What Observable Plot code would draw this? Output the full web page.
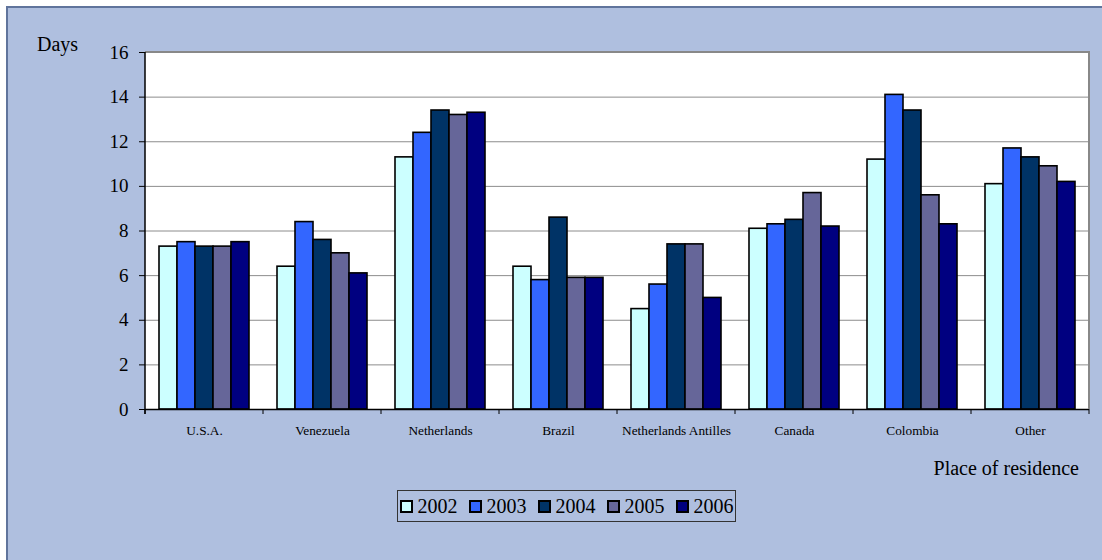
<!DOCTYPE html>
<html>
<head>
<meta charset="utf-8">
<script src="https://cdn.jsdelivr.net/npm/d3@7"></script>
<script src="https://cdn.jsdelivr.net/npm/@observablehq/plot@0.6"></script>
<style>
  html, body { margin: 0; padding: 0; background: #ffffff; }
  body { width: 1102px; height: 560px; position: relative; overflow: hidden; font-family: "Liberation Serif", "Times New Roman", Times, serif; }
  #panel { position: absolute; left: 6px; top: 6px; width: 1110px; height: 570px; background: #AFBFDF; border-left: 2px solid #60749C; border-top: 2px solid #60749C; }
  #chart { position: absolute; left: 0; top: 0; }
  #ylabel { position: absolute; left: 37px; top: 33px; font-size: 20px; line-height: 22px; color: #000; }
  #xlabel { position: absolute; right: 23px; top: 457px; font-size: 20px; line-height: 22px; color: #000; }
  #legend { position: absolute; left: 397px; top: 490px; width: 339px; height: 32px; border: 1px solid #333; box-sizing: border-box; display: flex; align-items: center; justify-content: center; gap: 11px; font-size: 20px; }
  #legend .item { display: flex; align-items: center; gap: 5px; }
  #legend .sw { width: 9px; height: 9px; border: 2px solid #000; display: inline-block; }
</style>
</head>
<body>
<div id="panel"></div>
<div id="chart"></div>
<div id="ylabel">Days</div>
<div id="xlabel">Place of residence</div>
<div id="legend"></div>
<script>
const categories = ["U.S.A.", "Venezuela", "Netherlands", "Brazil", "Netherlands Antilles", "Canada", "Colombia", "Other"];
const years = ["2002", "2003", "2004", "2005", "2006"];
const colors = ["#CCFFFF", "#3366FF", "#003366", "#666699", "#000080"];
const v2002 = [7.3, 6.4, 11.3, 6.4, 4.5, 8.1, 11.2, 10.1];
const v2003 = [7.5, 8.4, 12.4, 5.8, 5.6, 8.3, 14.1, 11.7];
const v2004 = [7.3, 7.6, 13.4, 8.6, 7.4, 8.5, 13.4, 11.3];
const v2005 = [7.3, 7.0, 13.2, 5.9, 7.4, 9.7, 9.6, 10.9];
const v2006 = [7.5, 6.1, 13.3, 5.9, 5.0, 8.2, 8.3, 10.2];
const yTicks = [0, 2, 4, 6, 8, 10, 12, 14, 16];

const series = [v2002, v2003, v2004, v2005, v2006];
const data = [];
categories.forEach((c, i) => {
  years.forEach((yr, j) => data.push({category: c, year: yr, value: series[j][i]}));
});

const serif = "'Liberation Serif', 'Times New Roman', Times, serif";
const chart = Plot.plot({
  width: 1102,
  height: 450,
  marginLeft: 145,
  marginRight: 13,
  marginTop: 52,
  marginBottom: 41,
  style: {background: "transparent", fontFamily: serif, color: "#000"},
  fx: {domain: categories, paddingInner: 0, paddingOuter: 0, label: null},
  x: {domain: years, paddingInner: 0, paddingOuter: 0.745, axis: null},
  y: {domain: [0, 16], label: null},
  color: {domain: years, range: colors},
  marks: [
    Plot.gridY(yTicks, {stroke: "#8c8c8c", strokeOpacity: 1, strokeWidth: 1}),
    Plot.barY(data, {fx: "category", x: "year", y: "value", fill: "year", stroke: "#000", strokeWidth: 1.6}),
    Plot.axisY(yTicks, {tickSize: 6, tickPadding: 11, fontSize: 19, stroke: "#000", label: null, fontFamily: serif}),
    Plot.axisFx({anchor: "bottom", tickSize: 0, tickPadding: 16, fontSize: 13.3, label: null, fontFamily: serif}),
    Plot.ruleY([0], {stroke: "#000", strokeWidth: 1.5})
  ]
});
document.getElementById("chart").appendChild(chart);

// white plot background, frame lines and boundary ticks, placed with the library's scales
const fx = chart.scale("fx");
const y = chart.scale("y");
const svgNode = chart.tagName.toLowerCase() === "svg" ? chart : chart.querySelector("svg");
const svg = d3.select(svgNode);
const x0 = fx.range[0], x1 = fx.range[1];
const yTop = y.apply(16), yBot = y.apply(0);
svg.insert("rect", ":first-child")
  .attr("x", x0).attr("y", yTop).attr("width", x1 - x0).attr("height", yBot - yTop).attr("fill", "white");
const g = svg.append("g");
g.append("line").attr("x1", x0).attr("x2", x1 + 1).attr("y1", yTop).attr("y2", yTop).attr("stroke", "#888").attr("stroke-width", 2);
g.append("line").attr("x1", x1).attr("x2", x1).attr("y1", yTop).attr("y2", yBot).attr("stroke", "#888").attr("stroke-width", 2);
g.append("line").attr("x1", x0).attr("x2", x0).attr("y1", yTop).attr("y2", yBot + 5).attr("stroke", "#000").attr("stroke-width", 1.5);
const bounds = categories.map(c => fx.apply(c)).concat([x1]);
g.selectAll("line.bt").data(bounds).join("line").attr("class", "bt")
  .attr("x1", d => d).attr("x2", d => d).attr("y1", yBot).attr("y2", yBot + 5)
  .attr("stroke", "#000").attr("stroke-width", 1);

// legend
const legend = document.getElementById("legend");
years.forEach((yr, j) => {
  const item = document.createElement("span");
  item.className = "item";
  const sw = document.createElement("span");
  sw.className = "sw";
  sw.style.background = colors[j];
  item.appendChild(sw);
  item.appendChild(document.createTextNode(yr));
  legend.appendChild(item);
});
</script>
</body>
</html>
